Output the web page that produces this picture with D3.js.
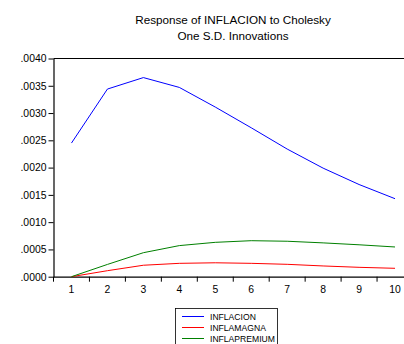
<!DOCTYPE html>
<html><head><meta charset="utf-8">
<script src="https://cdn.jsdelivr.net/npm/d3@7/dist/d3.min.js"></script>
<style>body{margin:0;background:#fff}svg{display:block}text{font-family:"Liberation Sans",Arial,sans-serif}</style>
</head><body>
<svg id="c" width="404" height="344"></svg>
<script>
const periods = [1,2,3,4,5,6,7,8,9,10];
const inflacion = [0.00245,0.00344,0.00365,0.00347,0.00311,0.00273,0.00234,0.00199,0.00169,0.00143];
const inflamagna = [0.0,0.00011,0.00021,0.000245,0.000255,0.000245,0.000227,0.000197,0.000172,0.000154];
const inflapremium = [0.0,0.000225,0.00044,0.00057,0.00063,0.00066,0.00065,0.00062,0.000585,0.000545];
const yTicks = [0,0.0005,0.001,0.0015,0.002,0.0025,0.003,0.0035,0.004];
const seriesNames = ["INFLACION","INFLAMAGNA","INFLAPREMIUM"];
const seriesColors = ["#0000ff","#ff0000","#008000"];
const seriesData = [inflacion, inflamagna, inflapremium];

const svg = d3.select("#c");
const L = 53.5, R = 413, T = 58.5, B = 276.7;
const x = d3.scaleBand().domain(periods).range([L, R]);
const y = d3.scaleLinear().domain([0, 0.004]).range([B, T]);

// title
svg.append("text").attr("x", 233).attr("y", 24).attr("text-anchor","middle")
  .style("font-size","11.7px").text("Response of INFLACION to Cholesky");
svg.append("text").attr("x", 233).attr("y", 40).attr("text-anchor","middle")
  .style("font-size","11.7px").text("One S.D. Innovations");

// frame top
svg.append("line").attr("x1", L).attr("x2", R).attr("y1", T).attr("y2", T)
  .attr("stroke","#000").attr("stroke-width",1.2);

// y axis
const fmt = v => d3.format(".4f")(v).replace(/^0/, "");
const ya = svg.append("g").attr("transform",`translate(${L},0)`)
  .call(d3.axisLeft(y).tickValues(yTicks).tickFormat(fmt).tickSize(5).tickPadding(2).tickSizeOuter(0));
ya.select(".domain").attr("stroke","#000").attr("stroke-width",1.2);
ya.selectAll("text").style("font-size","10.4px").style("font-family",'"Liberation Sans",Arial,sans-serif').attr("fill","#000");

// x axis
const xa = svg.append("g").attr("transform",`translate(0,${B})`)
  .call(d3.axisBottom(x).tickSize(0).tickPadding(9).tickSizeOuter(0));
xa.select(".domain").attr("stroke","#000").attr("stroke-width",1.2);
xa.selectAll("text").style("font-size","10.4px").style("font-family",'"Liberation Sans",Arial,sans-serif').attr("fill","#000");
xa.selectAll(".bound").data(periods).enter().append("line").attr("class","bound")
  .attr("x1", d => x(d)).attr("x2", d => x(d)).attr("y1", 0).attr("y2", 5)
  .attr("stroke","#000").attr("stroke-width",1);

// lines
const line = d3.line().x((d,i) => x(periods[i]) + x.bandwidth()/2).y(d => y(d));
seriesData.forEach((s, k) => {
  svg.append("path").datum(s).attr("d", line).attr("fill","none")
    .attr("stroke", seriesColors[k]).attr("stroke-width", 1);
});

// legend
const lg = svg.append("g");
lg.append("rect").attr("x",175.5).attr("y",308.5).attr("width",102).attr("height",40)
  .attr("fill","#fff").attr("stroke","#000").attr("stroke-width",0.8);
seriesNames.forEach((n,k) => {
  const cy = 316.5 + k*11;
  lg.append("line").attr("x1",182).attr("x2",204).attr("y1",cy).attr("y2",cy)
    .attr("stroke",seriesColors[k]).attr("stroke-width",1);
  lg.append("text").attr("x",210).attr("y",cy+3).style("font-size","8.6px").text(n);
});
</script>
</body></html>
